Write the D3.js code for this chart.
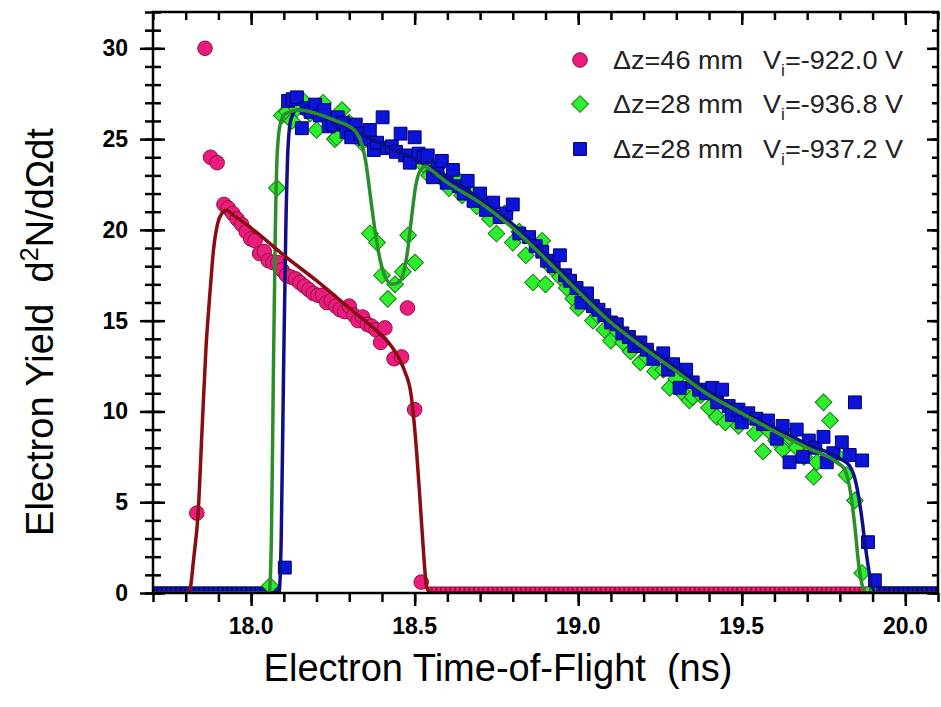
<!DOCTYPE html>
<html>
<head>
<meta charset="utf-8">
<script src="https://cdn.jsdelivr.net/npm/d3@7"></script>
<style>
  body { margin: 0; background: #fff; }
  text { font-family: "Liberation Sans", Arial, sans-serif; }
</style>
</head>
<body>
<svg id="chart" width="941" height="707"></svg>
<script>
// tick values
const xMajorTicks = [18.0, 18.5, 19.0, 19.5, 20.0];
const yMajorTicks = [0, 5, 10, 15, 20, 25, 30];

// legend entries
const legendDz = ["\u0394z=46 mm", "\u0394z=28 mm", "\u0394z=28 mm"];
const legendV = ["=-922.0 V", "=-936.8 V", "=-937.2 V"];

// measured points [time (ns), yield]
const pinkPts = [
  [17.834, 4.4], [17.859, 30.0], [17.876, 24.0], [17.896, 23.7], [17.917, 21.4],
  [17.930, 21.2], [17.944, 20.9], [17.957, 20.6], [17.971, 20.3], [17.985, 19.9],
  [17.999, 19.5], [18.012, 19.4], [18.026, 18.7], [18.040, 18.8], [18.053, 18.3],
  [18.067, 18.2], [18.081, 18.2], [18.094, 17.8], [18.108, 17.5], [18.122, 17.4],
  [18.136, 17.3], [18.149, 17.1], [18.163, 16.9], [18.177, 16.7], [18.190, 16.5],
  [18.204, 16.4], [18.218, 16.4], [18.231, 16.0], [18.245, 16.1], [18.259, 15.8],
  [18.272, 15.6], [18.286, 15.5], [18.300, 15.8], [18.314, 15.3], [18.327, 15.0],
  [18.341, 15.2], [18.355, 14.8], [18.368, 14.7], [18.382, 14.5], [18.396, 13.8],
  [18.409, 14.6], [18.437, 12.9], [18.460, 13.0], [18.478, 15.7], [18.500, 10.1],
  [18.520, 0.6]
];

const greenPts = [
  [18.058, 0.4], [18.079, 22.3], [18.094, 26.3], [18.110, 26.5], [18.125, 26.0],
  [18.140, 26.7], [18.160, 27.1], [18.180, 26.4], [18.200, 25.5], [18.220, 27.0],
  [18.240, 26.2], [18.256, 25.0], [18.262, 25.1], [18.278, 26.6], [18.300, 25.9],
  [18.318, 25.6], [18.339, 24.8], [18.363, 19.8], [18.385, 19.3], [18.400, 17.5],
  [18.418, 16.2], [18.440, 17.0], [18.464, 17.7], [18.480, 19.7], [18.501, 18.2],
  [18.525, 23.6], [18.545, 23.0], [18.566, 23.4], [18.585, 22.8], [18.605, 22.3],
  [18.625, 22.9], [18.645, 21.9], [18.665, 22.1], [18.690, 21.3], [18.710, 21.5],
  [18.730, 20.6], [18.750, 19.8], [18.775, 20.9], [18.800, 19.3], [18.820, 19.9],
  [18.840, 18.6], [18.862, 17.1], [18.890, 19.4], [18.900, 17.0], [18.920, 17.9],
  [18.945, 17.4], [18.965, 16.8], [18.985, 16.2], [19.000, 15.7], [19.020, 16.1],
  [19.045, 15.0], [19.060, 15.3], [19.080, 14.5], [19.100, 13.9], [19.120, 14.4],
  [19.137, 13.8], [19.160, 13.3], [19.190, 12.7], [19.210, 13.0], [19.235, 12.2],
  [19.260, 12.3], [19.280, 11.3], [19.300, 11.8], [19.320, 11.0], [19.340, 10.6],
  [19.350, 10.8], [19.375, 10.9], [19.400, 10.2], [19.424, 9.7], [19.450, 9.4],
  [19.470, 10.0], [19.490, 9.2], [19.515, 9.6], [19.540, 8.8], [19.565, 7.8],
  [19.585, 8.9], [19.605, 8.4], [19.626, 7.9], [19.645, 8.6], [19.668, 8.0],
  [19.690, 7.5], [19.720, 6.4], [19.730, 7.2], [19.750, 10.5], [19.770, 9.5],
  [19.790, 7.6], [19.820, 6.5], [19.846, 5.1], [19.868, 1.1]
];

const bluePts = [
  [18.103, 1.4], [18.113, 27.1], [18.127, 27.2], [18.140, 27.3], [18.155, 25.6],
  [18.170, 26.7], [18.182, 26.5], [18.196, 26.9], [18.210, 26.3], [18.224, 26.6],
  [18.237, 25.7], [18.251, 25.8], [18.265, 26.2], [18.280, 25.9], [18.292, 25.4],
  [18.306, 25.1], [18.320, 25.8], [18.335, 25.3], [18.347, 25.0], [18.363, 25.5],
  [18.375, 24.4], [18.385, 24.8], [18.402, 26.2], [18.416, 24.5], [18.430, 24.6],
  [18.443, 24.3], [18.457, 25.3], [18.471, 24.1], [18.485, 23.7], [18.500, 25.1],
  [18.512, 24.2], [18.527, 24.0], [18.540, 24.1], [18.556, 22.9], [18.570, 23.4],
  [18.583, 23.8], [18.598, 22.6], [18.617, 23.3], [18.635, 22.4], [18.650, 22.0],
  [18.662, 22.7], [18.680, 21.6], [18.700, 22.0], [18.718, 21.1], [18.740, 21.5],
  [18.760, 20.7], [18.780, 20.9], [18.800, 21.4], [18.820, 19.8], [18.850, 19.6],
  [18.870, 19.1], [18.890, 18.8], [18.905, 18.3], [18.925, 18.0], [18.944, 18.6],
  [18.960, 17.5], [18.975, 17.2], [18.995, 16.8], [19.010, 16.0], [19.027, 16.5],
  [19.045, 15.8], [19.062, 15.6], [19.080, 15.3], [19.100, 14.9], [19.118, 14.8],
  [19.135, 14.3], [19.155, 14.1], [19.172, 13.6], [19.190, 13.8], [19.210, 13.4],
  [19.230, 12.9], [19.260, 13.2], [19.275, 12.3], [19.290, 12.6], [19.310, 11.3],
  [19.330, 12.3], [19.350, 11.6], [19.370, 11.2], [19.390, 11.0], [19.410, 11.3],
  [19.425, 10.5], [19.440, 11.2], [19.460, 10.3], [19.470, 9.8], [19.490, 10.1],
  [19.500, 9.4], [19.520, 9.9], [19.545, 9.6], [19.565, 9.3], [19.580, 9.5],
  [19.607, 8.5], [19.625, 9.2], [19.646, 7.2], [19.668, 9.0], [19.687, 7.5],
  [19.705, 8.4], [19.725, 8.0], [19.750, 8.6], [19.760, 7.2], [19.780, 7.7],
  [19.806, 8.3], [19.830, 7.6], [19.846, 10.5], [19.868, 7.3], [19.886, 2.8],
  [19.907, 0.7]
];

// time ranges where the measured yield is zero
const pinkZero = [[17.70, 17.81], [18.54, 20.10]];
const greenZero = [[17.70, 18.05], [19.88, 20.10]];
const blueZero = [[17.70, 18.09], [19.91, 20.10]];

// fitted curves
const pinkFit = [
  [17.70, 0], [17.81, 0], [17.825, 2.0], [17.838, 4.4], [17.85, 9.0], [17.862, 13.5],
  [17.874, 16.5], [17.885, 18.9], [17.897, 20.3], [17.91, 20.9], [17.925, 21.1],
  [17.94, 20.9], [18.0, 20.1], [18.1, 18.6], [18.2, 17.2], [18.3, 15.7], [18.38, 14.5],
  [18.42, 13.8], [18.45, 13.0], [18.47, 12.2], [18.49, 10.8], [18.505, 8.0],
  [18.515, 5.5], [18.525, 2.8], [18.537, 0.3], [18.55, 0], [20.10, 0]
];
const greenFit = [
  [17.70, 0], [18.055, 0], [18.062, 3], [18.068, 12], [18.074, 20], [18.08, 24.3],
  [18.09, 25.9], [18.105, 26.4], [18.15, 26.6], [18.2, 26.4], [18.26, 26.0], [18.30, 25.7],
  [18.32, 25.4], [18.335, 24.9], [18.35, 23.8], [18.365, 21.8], [18.38, 19.8],
  [18.395, 18.3], [18.41, 17.4], [18.43, 17.0], [18.45, 17.1], [18.465, 17.6],
  [18.478, 18.8], [18.49, 20.6], [18.503, 22.4], [18.518, 23.3], [18.535, 23.5],
  [18.55, 23.3], [18.6, 22.6], [18.7, 21.5], [18.8, 20.1], [18.9, 18.4], [19.0, 16.6],
  [19.1, 14.9], [19.2, 13.5], [19.3, 12.2], [19.4, 10.9], [19.5, 9.9], [19.6, 8.9],
  [19.7, 8.0], [19.79, 7.2], [19.815, 6.8], [19.83, 5.8], [19.845, 3.8], [19.858, 1.5],
  [19.87, 0.3], [19.88, 0], [20.10, 0]
];
const blueFit = [
  [17.70, 0], [18.085, 0], [18.092, 3], [18.099, 12], [18.106, 20], [18.113, 24.6],
  [18.122, 26.1], [18.14, 26.6], [18.2, 26.4], [18.3, 25.6], [18.4, 24.7], [18.5, 23.9],
  [18.6, 22.9], [18.7, 21.7], [18.8, 20.3], [18.9, 18.6], [19.0, 16.8], [19.1, 15.1],
  [19.2, 13.7], [19.3, 12.4], [19.4, 11.1], [19.5, 10.0], [19.6, 9.1], [19.7, 8.2],
  [19.8, 7.4], [19.83, 7.0], [19.85, 6.0], [19.865, 4.4], [19.88, 2.3], [19.895, 0.6],
  [19.91, 0], [20.10, 0]
];

const svg = d3.select("#chart");
const mLeft = 153, mRight = 938, mTop = 12, mBottom = 593;

const x = d3.scaleLinear().domain([17.7, 20.1]).range([mLeft, mRight]);
const y = d3.scaleLinear().domain([0, 32]).range([mBottom, mTop]);

const xMinor = d3.range(17.7, 20.1001, 0.1).map(v => +v.toFixed(1));
const yMinor = d3.range(0, 33, 1);

svg.append("defs").append("clipPath").attr("id", "plot")
  .append("rect").attr("x", mLeft).attr("y", mTop)
  .attr("width", mRight - mLeft).attr("height", mBottom - mTop);

const plot = svg.append("g").attr("clip-path", "url(#plot)");

const styles = {
  pink: { fill: "#ec1c7e", stroke: "#8c1040", line: "#8b0c10" },
  green: { fill: "#2cf02c", stroke: "#1b7a1b", line: "#2a8f2a" },
  blue: { fill: "#0c14d8", stroke: "#00006e", line: "#0e0e88" }
};
const diamondSize = 140, squareSize = 165, circleR = 7.3;

// zero-yield points, drawn as a marker band on the baseline
const zeroBand = (ranges, st) => {
  ranges.forEach(r => {
    plot.append("line")
      .attr("x1", x(r[0])).attr("x2", x(r[1]))
      .attr("y1", y(0)).attr("y2", y(0))
      .attr("stroke", st.stroke).attr("stroke-width", 13);
    plot.append("line")
      .attr("x1", x(r[0])).attr("x2", x(r[1]))
      .attr("y1", y(0)).attr("y2", y(0))
      .attr("stroke", st.fill).attr("stroke-width", 11)
      .attr("stroke-dasharray", "3,1.7");
  });
};
zeroBand(pinkZero, styles.pink);
zeroBand(greenZero, styles.green);
zeroBand(blueZero, styles.blue);

// scatter
plot.selectAll(".green").data(greenPts).enter().append("path")
  .attr("class", "green")
  .attr("d", d3.symbol(d3.symbolSquare, diamondSize)())
  .attr("transform", d => `translate(${x(d[0])},${y(d[1])}) rotate(45)`)
  .attr("fill", styles.green.fill).attr("stroke", styles.green.stroke).attr("stroke-width", 1);

plot.selectAll(".blue").data(bluePts).enter().append("path")
  .attr("class", "blue")
  .attr("d", d3.symbol(d3.symbolSquare, squareSize)())
  .attr("transform", d => `translate(${x(d[0])},${y(d[1])})`)
  .attr("fill", styles.blue.fill).attr("stroke", styles.blue.stroke).attr("stroke-width", 1);

plot.selectAll(".pink").data(pinkPts).enter().append("circle")
  .attr("class", "pink")
  .attr("cx", d => x(d[0])).attr("cy", d => y(d[1])).attr("r", circleR)
  .attr("fill", styles.pink.fill).attr("stroke", styles.pink.stroke).attr("stroke-width", 1);

// fit lines
const line = d3.line().x(d => x(d[0])).y(d => y(d[1])).curve(d3.curveMonotoneX);
[[blueFit, styles.blue], [greenFit, styles.green], [pinkFit, styles.pink]].forEach(([data, st]) => {
  plot.append("path").datum(data)
    .attr("d", line).attr("fill", "none")
    .attr("stroke", st.line).attr("stroke-width", 3.5)
    .attr("stroke-linejoin", "round");
});

// axes
const tickAxis = (axis, scale, values, size, tx, ty) => {
  const g = svg.append("g").attr("transform", `translate(${tx},${ty})`)
    .call(axis(scale).tickValues(values).tickSize(size).tickFormat(""));
  g.select(".domain").remove();
  g.selectAll("line").attr("stroke", "#000").attr("stroke-width", 2.5);
  return g;
};

// bottom: outward ticks
tickAxis(d3.axisBottom, x, xMinor, 9, 0, mBottom);
tickAxis(d3.axisBottom, x, xMajorTicks, 13, 0, mBottom);
// top: inward ticks
tickAxis(d3.axisBottom, x, xMinor, 8, 0, mTop);
tickAxis(d3.axisBottom, x, xMajorTicks, 13, 0, mTop);
// left: crossing ticks
tickAxis(d3.axisLeft, y, yMinor, 8, mLeft, 0);
tickAxis(d3.axisRight, y, yMinor, 8, mLeft, 0);
tickAxis(d3.axisLeft, y, yMajorTicks, 13, mLeft, 0);
tickAxis(d3.axisRight, y, yMajorTicks, 12, mLeft, 0);
// right: inward ticks
tickAxis(d3.axisLeft, y, yMinor, 6, mRight, 0);
tickAxis(d3.axisLeft, y, yMajorTicks, 11, mRight, 0);

svg.append("rect")
  .attr("x", mLeft).attr("y", mTop)
  .attr("width", mRight - mLeft).attr("height", mBottom - mTop)
  .attr("fill", "none").attr("stroke", "#000").attr("stroke-width", 2.5);

// tick labels
svg.selectAll(".xlab").data(xMajorTicks).enter().append("text")
  .attr("x", d => x(d)).attr("y", 634)
  .attr("text-anchor", "middle")
  .attr("font-size", 23).attr("font-weight", "bold")
  .text(d => d.toFixed(1));

svg.selectAll(".ylab").data(yMajorTicks).enter().append("text")
  .attr("x", 128).attr("y", d => y(d) + 8)
  .attr("text-anchor", "end")
  .attr("font-size", 23).attr("font-weight", "bold")
  .text(d => d);

// axis titles
svg.append("text")
  .attr("x", 498).attr("y", 681)
  .attr("text-anchor", "middle").attr("font-size", 38)
  .style("white-space", "pre")
  .text("Electron Time-of-Flight  (ns)");

const yt = svg.append("text")
  .attr("transform", "translate(53,332) rotate(-90)")
  .attr("text-anchor", "middle").attr("font-size", 38)
  .style("white-space", "pre");
yt.append("tspan").text("Electron Yield  d");
yt.append("tspan").attr("font-size", 25).attr("dy", -15).text("2");
yt.append("tspan").attr("dy", 15).text("N/d\u03A9dt");

// legend
const legendRows = [60, 104, 149];
const legendShapes = ["circle", "diamond", "square"];
const legendStyles = [styles.pink, styles.green, styles.blue];

legendRows.forEach((ly, i) => {
  const st = legendStyles[i];
  if (legendShapes[i] === "circle") {
    svg.append("circle").attr("cx", 580).attr("cy", ly).attr("r", circleR)
      .attr("fill", st.fill).attr("stroke", st.stroke);
  } else if (legendShapes[i] === "diamond") {
    svg.append("path").attr("d", d3.symbol(d3.symbolSquare, diamondSize)())
      .attr("transform", `translate(580,${ly}) rotate(45)`)
      .attr("fill", st.fill).attr("stroke", st.stroke);
  } else {
    svg.append("path").attr("d", d3.symbol(d3.symbolSquare, squareSize)())
      .attr("transform", `translate(580,${ly})`)
      .attr("fill", st.fill).attr("stroke", st.stroke);
  }
  svg.append("text").attr("x", 613).attr("y", ly + 9)
    .attr("font-size", 25).attr("fill", "#222")
    .attr("textLength", 130).attr("lengthAdjust", "spacingAndGlyphs")
    .text(legendDz[i]);
  const t = svg.append("text").attr("x", 763).attr("y", ly + 9)
    .attr("font-size", 25).attr("fill", "#222")
    .attr("textLength", 140).attr("lengthAdjust", "spacingAndGlyphs");
  t.append("tspan").text("V");
  t.append("tspan").attr("font-size", 16).attr("dy", 7).text("i");
  t.append("tspan").attr("dy", -7).text(legendV[i]);
});
</script>
</body>
</html>
